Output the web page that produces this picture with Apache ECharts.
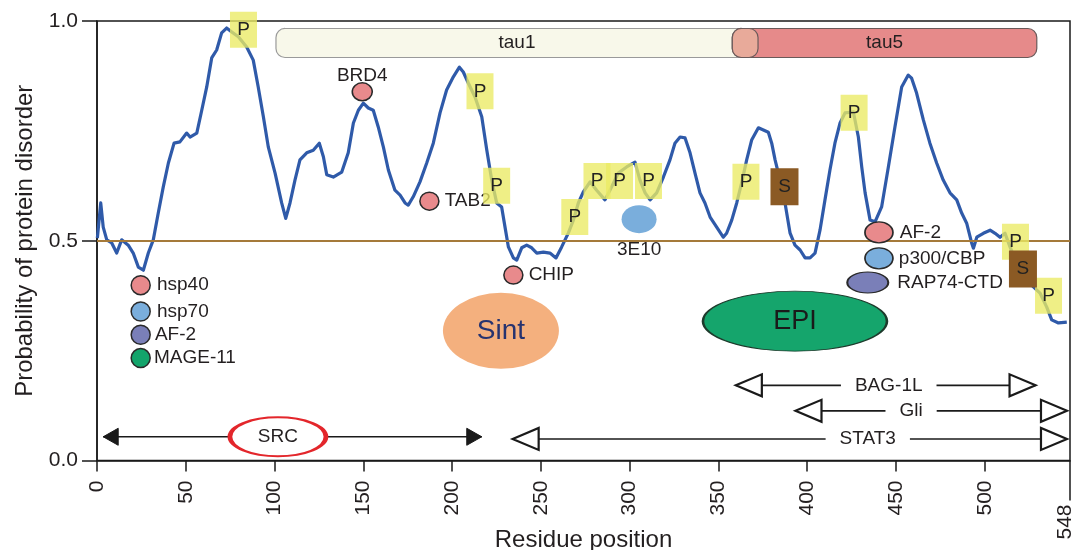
<!DOCTYPE html>
<html>
<head>
<meta charset="utf-8">
<script src="https://cdn.jsdelivr.net/npm/echarts@6/dist/echarts.min.js"></script>
<style>html,body{margin:0;padding:0;background:#fff}#c{width:1074px;height:550px}</style>
</head>
<body>
<div id="c"></div>
<script>
// ---------- data ----------
const residues = [0.2,2.1,3.5,5.5,8.3,11.1,13.9,17.6,20.4,23.3,26.1,28.9,31.7,34.5,37.3,40.2,43.4,46.7,50.5,52.4,56.2,59.0,61.8,64.6,67.4,70.2,73.0,75.9,79.6,84.3,88.0,90.8,93.7,96.5,100.3,104.0,106.3,108.7,111.5,114.3,118.1,121.8,125.2,127.5,129.4,133.1,137.8,141.5,
144.4,147.2,150.0,152.8,155.6,158.4,161.3,164.1,167.8,170.7,173.5,175.3,178.1,181.9,185.7,189.4,193.2,196.9,200.7,204.1,206.3,209.1,212.9,216.7,219.5,222.3,225.1,227.9,229.8,231.7,234.5,236.4,239.2,242.0,244.8,247.7,251.4,255.1,258.5,261.7,265.5,268.3,271.1,273.9,277.7,
281.4,286.1,288.9,293.6,298.3,303.0,305.8,308.7,311.5,315.2,319.0,322.7,325.5,328.4,331.2,334.0,336.8,339.6,342.4,345.3,349.0,352.7,354.6,357.5,360.3,363.1,365.9,368.7,372.5,375.3,378.1,380.0,381.9,384.7,387.5,390.3,393.1,396.0,398.8,401.6,404.4,407.2,410.0,412.8,415.6,418.5,421.3,
426.0,428.8,430.7,432.6,435.4,438.2,441.9,445.7,449.4,453.2,456.9,458.8,461.6,465.4,469.1,472.9,476.6,480.4,484.2,487.0,489.8,492.6,493.6,495.5,499.2,503.0,505.8,508.6,511.4,514.2,518.0,522.7,527.4,531.1,534.9,537.7,541.5,546.2];
const disorder = [0.506,0.586,0.531,0.502,0.495,0.472,0.502,0.490,0.472,0.440,0.433,0.472,0.502,0.563,0.622,0.677,0.722,0.725,0.745,0.736,0.745,0.797,0.850,0.916,0.934,0.973,0.984,0.975,0.964,0.941,0.911,0.850,0.782,0.713,0.654,0.586,0.551,0.586,0.638,0.684,0.700,0.706,0.722,0.691,0.650,0.645,0.656,0.700,
0.768,0.797,0.813,0.802,0.797,0.759,0.713,0.661,0.615,0.604,0.586,0.581,0.600,0.634,0.677,0.722,0.791,0.843,0.873,0.895,0.884,0.859,0.827,0.782,0.707,0.638,0.586,0.577,0.531,0.486,0.461,0.456,0.484,0.490,0.484,0.472,0.474,0.472,0.461,0.486,0.518,0.547,0.586,0.611,0.634,
0.615,0.593,0.615,0.654,0.668,0.679,0.638,0.609,0.593,0.609,0.645,0.684,0.722,0.736,0.734,0.700,0.654,0.609,0.586,0.554,0.531,0.508,0.517,0.547,0.586,0.632,0.684,0.729,0.757,0.752,0.747,0.722,0.684,0.638,0.586,0.518,0.490,0.479,0.461,0.461,0.472,0.524,0.593,0.661,0.722,0.768,0.791,
0.793,0.736,0.668,0.609,0.547,0.543,0.577,0.668,0.759,0.850,0.877,0.870,0.836,0.775,0.722,0.677,0.638,0.609,0.593,0.563,0.540,0.495,0.483,0.508,0.517,0.524,0.517,0.508,0.517,0.486,0.449,0.418,0.395,0.381,0.349,0.320,0.313,0.315];

const xTickValues = [0,50,100,150,200,250,300,350,400,450,500];
const xEndTick = [548];
const yTickValues = [0, 0.5, 1.0];
const disorderThreshold = 0.5;

const pSiteResidue = [82.5,215.7,225.1,269.1,281.6,294.3,310.6,365.5,426.4,517.3,535.9];
const pSiteDisorder = [0.980,0.840,0.625,0.554,0.636,0.636,0.636,0.634,0.791,0.498,0.375];
const sSiteResidue = [387.2,521.5];
const sSiteDisorder = [0.623,0.436];

const partnerNames = ['hsp40','hsp70','AF-2','MAGE-11','BRD4','TAB2','CHIP','3E10','AF-2','p300/CBP','RAP74-CTD'];
const partnerResidue = [24.6,24.6,24.6,24.6,149.4,187.2,234.5,305.3,440.4,440.4,434.1];
const partnerDisorder = [0.399,0.339,0.286,0.233,0.839,0.590,0.422,0.549,0.519,0.460,0.405];

const subdomainNames = ['Sint','EPI'];
const subdomainResidue = [227.5,393.1];
const subdomainDisorder = [0.295,0.317];

const domainNames = ['tau1','tau5'];
const domainStart = [100.8,357.8];
const domainEnd = [372.3,529.3];
const domainLevel = [0.95,0.95];

const regionNames = ['SRC','STAT3','Gli','BAG-1L'];
const regionStart = [3.5,234.1,393.4,359.8];
const regionEnd = [216.7,546.3,546.3,528.6];
const regionLevel = [0.054,0.049,0.113,0.171];
const regionLabelAt = [101.9,434.1,458.5,445.9];

// ---------- styles ----------
const FONT = '"Liberation Sans", Arial, Helvetica, sans-serif';
const INK = '#231f20';
const COL = {pink:'#e88a8c', blue:'#7aaedc', purple:'#7a7fb8', green:'#13a46b'};
const partnerLook = [
  {c:'pink', s:[19,19], pos:'right', d:6, b:true},
  {c:'blue', s:[19,19], pos:'right', d:6, b:true},
  {c:'purple', s:[19,19], pos:'right', d:4, b:true},
  {c:'green', s:[19,19], pos:'right', d:3, b:true},
  {c:'pink', s:[20,18], pos:'top', d:-3, b:true},
  {c:'pink', s:[19,18], pos:'right', d:5, b:true},
  {c:'pink', s:[19,18], pos:'right', d:5, b:true},
  {c:'blue', s:[35,28], pos:'bottom', d:7, b:false},
  {c:'pink', s:[28,21], pos:'right', d:6, b:true},
  {c:'blue', s:[28,21], pos:'right', d:5, b:true},
  {c:'purple', s:[41,21], pos:'right', d:8, b:true}
];

const lineData = residues.map((r,i)=>[r, disorder[i]]);

const partnerData = partnerNames.map((n,i)=>{
  const L = partnerLook[i];
  return {
    name: n, value:[partnerResidue[i], partnerDisorder[i]],
    symbolSize: L.s,
    itemStyle:{color: COL[L.c], opacity:1, borderColor: L.b ? '#2a2a2a' : 'rgba(0,0,0,0)', borderWidth: L.b ? 1.5 : 0},
    label:{show:true, position:L.pos, distance:L.d, formatter:n, fontSize:19, fontFamily:FONT, color:INK}
  };
});

const subLook = [
  {s:[116,76], color:'#f4b07e', border:null, fs:28, tc:'#27336f'},
  {s:[184,60], color:'#15a56c', border:'#1d3b2c', fs:27, tc:'#1a1a1a'}
];
const subData = subdomainNames.map((n,i)=>({
  name:n, value:[subdomainResidue[i], subdomainDisorder[i]], symbolSize: subLook[i].s,
  itemStyle:{color:subLook[i].color, opacity:1, borderColor: subLook[i].border || 'rgba(0,0,0,0)', borderWidth: subLook[i].border?1.5:0},
  label:{show:true, position:'inside', formatter:n, fontSize:subLook[i].fs, fontFamily:FONT, color:subLook[i].tc}
}));

const siteLabel = t => ({show:true, position:'inside', formatter:t, fontSize:19, fontFamily:FONT, color:'#222'});
const pData = pSiteResidue.map((r,i)=>[r, pSiteDisorder[i]]);
const sData = sSiteResidue.map((r,i)=>[r, sSiteDisorder[i]]);

// domains (plus the overlap piece)
const domData = domainNames.map((n,i)=>[domainStart[i], domainEnd[i], domainLevel[i], i]);
const ovStart = Math.max(...domainStart), ovEnd = Math.min(...domainEnd);
domData.push([ovStart, ovEnd, domainLevel[0], 2]);
const domFill = ['#f8f8ea','#e68a8a','#e8aa9a'];
const domStroke = ['#9a9a9a','#6a5a5a','#6a5a5a'];
const domText = [domainNames[0], domainNames[1], ''];

// regions (arrows)
const filledHeads = new Set(['SRC']);
const regData = regionNames.map((n,i)=>[regionStart[i], regionEnd[i], regionLevel[i], regionLabelAt[i], filledHeads.has(n)?1:0, i]);
const srcIdx = regionNames.indexOf('SRC');

const chart = echarts.init(document.getElementById('c'), null, {renderer:'canvas'});
chart.setOption({
  animation:false,
  backgroundColor:'#fff',
  textStyle:{fontFamily:FONT},
  grid:{left:97, right:4, top:21, bottom:89.5, show:true, borderColor:'#1a1a1a', borderWidth:1.5,
        backgroundColor:'rgba(0,0,0,0)', containLabel:false, outerBoundsMode:'none'},
  xAxis:[{
    type:'value', min:0, max:548, interval:50,
    name:'Residue position', nameLocation:'middle', nameGap:68,
    nameTextStyle:{fontSize:24, color:INK, fontFamily:FONT},
    axisLine:{show:true, lineStyle:{color:'#1a1a1a', width:1.5}},
    axisTick:{show:true, length:11, customValues:xTickValues, lineStyle:{color:'#1a1a1a', width:1.5}},
    axisLabel:{show:true, customValues:xTickValues, rotate:90, margin:20, fontSize:21, color:INK, fontFamily:FONT},
    splitLine:{show:false}
  },{
    type:'value', min:0, max:548, position:'bottom',
    axisLine:{show:false},
    axisTick:{show:true, length:40, customValues:xEndTick, lineStyle:{color:'#1a1a1a', width:1.5}},
    axisLabel:{show:true, customValues:xEndTick, rotate:90, margin:44, fontSize:21, color:INK, fontFamily:FONT,
               verticalAlign:'bottom', lineHeight:9},
    splitLine:{show:false}
  }],
  yAxis:{
    type:'value', min:0, max:1, interval:0.5,
    name:'Probability of protein disorder', nameLocation:'middle', nameGap:60,
    nameTextStyle:{fontSize:24, color:INK, fontFamily:FONT},
    axisLine:{show:true, lineStyle:{color:'#1a1a1a', width:1.5}},
    axisTick:{show:true, length:15, customValues:yTickValues, lineStyle:{color:'#1a1a1a', width:1.5}},
    axisLabel:{customValues:yTickValues, margin:19, fontSize:21, color:INK, fontFamily:FONT, formatter:v=>v.toFixed(1)},
    splitLine:{show:false}
  },
  series:[
    {type:'scatter', data:[], z:1, silent:true,
     markLine:{silent:true, symbol:'none', label:{show:false}, lineStyle:{color:'#a57a3a', width:2, type:'solid'},
               data:[{yAxis:disorderThreshold}]}},
    {type:'custom', z:2, silent:true, clip:false, data:regData,
     renderItem:(params, api)=>{
       const y = api.coord([api.value(0), api.value(2)])[1];
       const x0 = api.coord([api.value(0), api.value(2)])[0];
       const x1 = api.coord([api.value(1), api.value(2)])[0];
       const lx = api.coord([api.value(3), api.value(2)])[0];
       const filled = api.value(4) === 1;
       const L = filled ? 15 : 26, H = filled ? 8.5 : 11;
       const idx = api.value(5);
       const ch = [
         {type:'line', shape:{x1:x0, y1:y, x2:x1, y2:y}, style:{stroke:'#1a1a1a', lineWidth:1.6}},
         {type:'polygon', shape:{points:[[x0,y],[x0+L,y-H],[x0+L,y+H]]}, style:{fill:filled?'#1a1a1a':'#fff', stroke:'#1a1a1a', lineWidth:filled?1:2.2, lineJoin:'miter'}},
         {type:'polygon', shape:{points:[[x1,y],[x1-L,y-H],[x1-L,y+H]]}, style:{fill:filled?'#1a1a1a':'#fff', stroke:'#1a1a1a', lineWidth:filled?1:2.2, lineJoin:'miter'}}
       ];
       if (!filled) {
         ch.push({type:'text', style:{text:regionNames[idx], x:lx, y:y, align:'center', verticalAlign:'middle',
                  fontSize:19, fontFamily:FONT, fill:INK, backgroundColor:'#fff', padding:[2,14]}});
       }
       return {type:'group', children:ch};
     }},
    {type:'scatter', z:3, silent:true, clip:false, symbol:'circle',
     data:[{name:regionNames[srcIdx], value:[regionLabelAt[srcIdx], regionLevel[srcIdx]], symbolSize:[96,39],
            itemStyle:{color:'#fff', opacity:1, borderColor:'#e3262b', borderWidth:3},
            label:{show:true, position:'inside', formatter:regionNames[srcIdx], fontSize:19, fontFamily:FONT, color:INK}}]},
    {type:'line', z:4, silent:true, data:lineData, showSymbol:false, symbol:'none', clip:false,
     lineStyle:{color:'#2f5aa9', width:3.2, join:'round'}},
    {type:'custom', z:4, silent:true, clip:false, data:domData,
     renderItem:(params, api)=>{
       const p0 = api.coord([api.value(0), api.value(2)]);
       const p1 = api.coord([api.value(1), api.value(2)]);
       const k = api.value(3);
       const h = 29;
       const ch = [{type:'rect', shape:{x:p0[0], y:p0[1]-h/2, width:p1[0]-p0[0], height:h, r:9},
                    style:{fill:domFill[k], stroke:domStroke[k], lineWidth:1.2}}];
       if (domText[k]) ch.push({type:'text', style:{text:domText[k], x:(p0[0]+p1[0])/2, y:p0[1], align:'center', verticalAlign:'middle', fontSize:19, fontFamily:FONT, fill:INK}});
       return {type:'group', children:ch};
     }},
    {type:'scatter', z:5, silent:true, clip:false, symbol:'circle', data:subData},
    {type:'scatter', z:5, silent:true, clip:false, symbol:'circle', data:partnerData},
    {type:'scatter', z:6, silent:true, clip:false, symbol:'rect', symbolSize:[27,36], data:pData,
     itemStyle:{color:'rgba(234,234,100,0.78)', opacity:1}, label:siteLabel('P')},
    {type:'scatter', z:6, silent:true, clip:false, symbol:'rect', symbolSize:[28,37], data:sData,
     itemStyle:{color:'#8b5a24', opacity:1}, label:siteLabel('S')}
  ]
});
</script>
</body>
</html>
